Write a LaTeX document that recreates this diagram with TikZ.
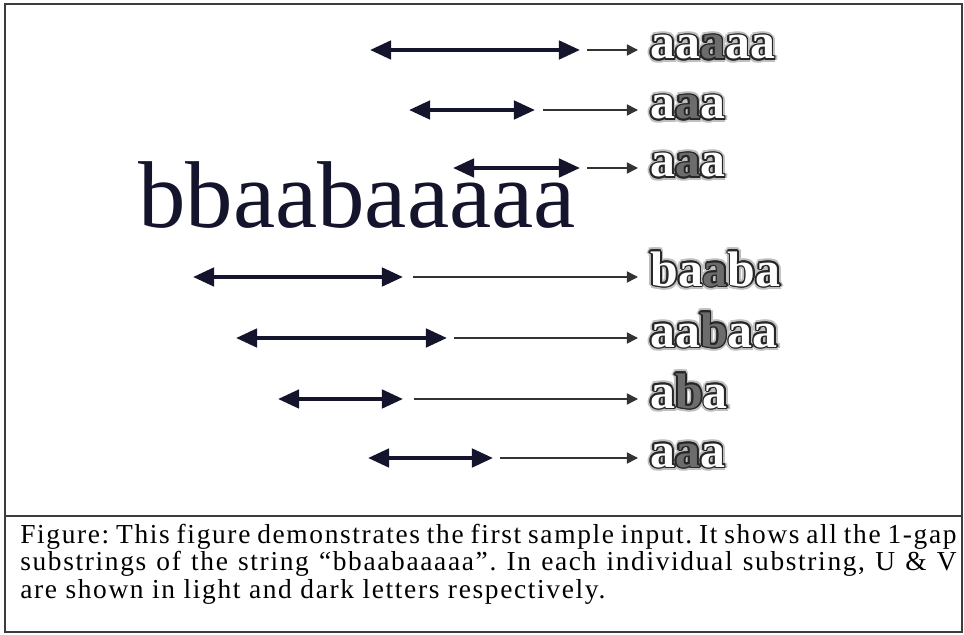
\documentclass[tikz,border=0pt]{standalone}
\usepackage{fontspec}
\setmainfont{Liberation Serif}
\newfontfamily\capfont[LetterSpace=6]{Liberation Serif}
\usetikzlibrary{arrows.meta}
\definecolor{inkblue}{HTML}{14142C}
\definecolor{boxgray}{HTML}{3C3C3C}
\newcommand{\glyphring}[3]{%
  \foreach \ang in {0,30,...,330}{%
    \pgfmathsetmacro{\ox}{#1*cos(\ang)}%
    \pgfmathsetmacro{\oy}{#1*sin(\ang)}%
    \rlap{\hspace*{\ox pt}\raisebox{\oy pt}{\textcolor{#2}{#3}}}}}
\newcommand{\outword}[3]{%
  \glyphring{2.6}{gray!50}{#1#2#3}\glyphring{1.3}{black!85}{#1#2#3}%
  \textcolor{white}{#1}\textcolor{gray!85!black}{#2}\textcolor{white}{#3}}

\begin{document}
\begin{tikzpicture}[x=0.025cm,y=-0.025cm,
  span/.style={draw=inkblue,line width=2.8pt,{Triangle[length=15pt,width=13pt]}-{Triangle[length=15pt,width=13pt]}},
  feed/.style={draw=black!80,line width=1.1pt,-{Triangle[length=8pt,width=8pt]}},
  lab/.style={anchor=base west,inner xsep=8.5pt,inner ysep=0pt,font=\fontsize{35.5pt}{35.5pt}\selectfont\bfseries}]
\useasboundingbox (0,0) rectangle (964,635);
\draw [boxgray,line width=1.4pt] (5,4) rectangle (962,632);
\draw [boxgray,line width=1.4pt] (5,516) -- (962,516);
\node [anchor=base west,inner sep=0pt,text=inkblue,font=\fontsize{67.5pt}{67.5pt}\selectfont] (str) at (138,228) {bbaabaaaaa};
\node [lab] (w1) at (638,59) {\outword{aa}{a}{aa}};
\node [lab] (w2) at (638,119) {\outword{a}{a}{a}};
\node [lab] (w3) at (638,177) {\outword{a}{a}{a}};
\node [lab] (w4) at (638,286) {\outword{ba}{a}{ba}};
\node [lab] (w5) at (638,347) {\outword{aa}{b}{aa}};
\node [lab] (w6) at (638,408) {\outword{a}{b}{a}};
\node [lab] (w7) at (638,467) {\outword{a}{a}{a}};
\coordinate (s1) at (370,50);
\coordinate (e1) at (580,50);
\coordinate (f1) at (587,50);
\coordinate (s2) at (409,110);
\coordinate (e2) at (535,110);
\coordinate (f2) at (543,110);
\coordinate (s3) at (453,168);
\coordinate (e3) at (580,168);
\coordinate (f3) at (587,168);
\coordinate (s4) at (193,277);
\coordinate (e4) at (403,277);
\coordinate (f4) at (413,277);
\coordinate (s5) at (236,338);
\coordinate (e5) at (447,338);
\coordinate (f5) at (454,338);
\coordinate (s6) at (278,399);
\coordinate (e6) at (403,399);
\coordinate (f6) at (414,399);
\coordinate (s7) at (368,458);
\coordinate (e7) at (493,458);
\coordinate (f7) at (500,458);
\draw [span] (s1) -- (e1);
\draw [feed] (f1) -- (f1 -| w1.west);
\draw [span] (s2) -- (e2);
\draw [feed] (f2) -- (f2 -| w2.west);
\draw [span] (s3) -- (e3);
\draw [feed] (f3) -- (f3 -| w3.west);
\draw [span] (s4) -- (e4);
\draw [feed] (f4) -- (f4 -| w4.west);
\draw [span] (s5) -- (e5);
\draw [feed] (f5) -- (f5 -| w5.west);
\draw [span] (s6) -- (e6);
\draw [feed] (f6) -- (f6 -| w6.west);
\draw [span] (s7) -- (e7);
\draw [feed] (f7) -- (f7 -| w7.west);
\node [anchor=base west,inner sep=0pt,text width=23.4cm,align=justify,font=\capfont\fontsize{19.5pt}{19.6pt}\selectfont\frenchspacing] (cap) at (20,543)
  {Figure: This figure demonstrates the first sample input. It shows all the 1-gap\linebreak
   substrings of the string “bbaabaaaaa”. In each individual substring, U \& V\linebreak
   are shown in light and dark letters respectively.};
\end{tikzpicture}
\end{document}
